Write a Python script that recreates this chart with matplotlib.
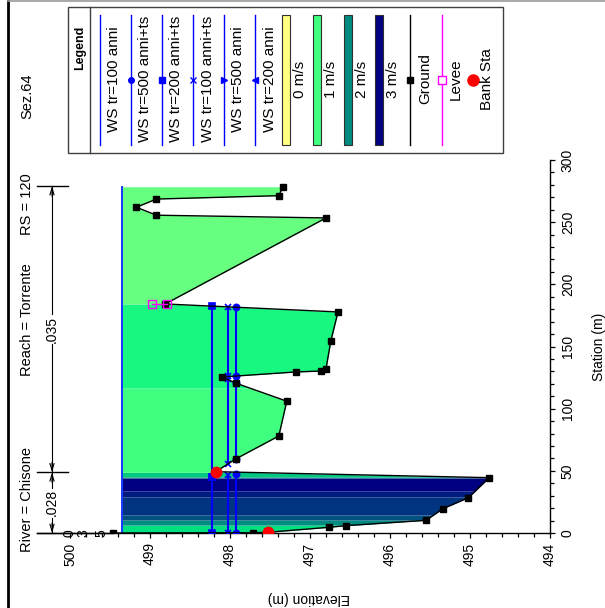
import numpy as np
import matplotlib
matplotlib.use('Agg')
import matplotlib.pyplot as plt
from matplotlib.patches import Rectangle

plt.rcParams['font.family'] = ['Liberation Sans', 'DejaVu Sans']

# ground profile: station (m) / elevation (m)
ground_sta = [0.0, 0.2, 0.6, 4.6, 5.9, 10.2, 19.5, 28.4, 44.5, 49.3, 59.5, 78.0, 106.0,
              120.6, 125.5, 129.5, 130.3, 132.0, 154.4, 177.8, 184.2, 253.4, 255.6,
              262.0, 268.6, 271.3, 278.5]
ground_elev = [499.46, 497.71, 497.52, 496.76, 496.55, 495.55, 495.34, 495.02, 494.76,
               498.18, 497.93, 497.39, 497.29, 497.93, 498.10, 497.18, 496.86, 496.80,
               496.74, 496.65, 498.81, 496.80, 498.92, 499.17, 498.92, 497.39, 497.34]

bank_sta = [0.6, 49.3]
bank_elev = [497.52, 498.18]

levee_sta = 184.2
levee_elev = [498.97, 498.79]

# water surface profiles
ws_names = ['WS tr=100 anni', 'WS tr=500 anni+ts', 'WS tr=200 anni+ts',
            'WS tr=100 anni+ts', 'WS tr=500 anni', 'WS tr=200 anni']
ws_elev = [499.35, 497.93, 498.22, 498.02, 499.35, 499.35]
ws_segments = [
    [(0.0, 278.5)],
    [(0.0, 47.5), (59.5, 120.6), (126.3, 181.8)],
    [(0.0, 44.8), (44.8, 182.5)],
    [(0.0, 46.6), (55.3, 123.6), (125.9, 181.8)],
    [(0.0, 278.5)],
    [(0.0, 278.5)],
]
ws_markers = ['', 'o', 's', 'x', '>', '<']
ws_show_markers = [False, True, True, True, False, False]

# velocity distribution bands (station limits)
band_edges = [0.0, 6.4, 10.5, 14.5, 29.0, 33.8, 44.2, 45.0, 48.8, 116.6, 184.2, 278.5]
band_colors = ['#00E080', '#008C80', '#005080', '#003480', '#001C80', '#000080',
               '#006080', '#00C880', '#40FF80', '#18F880', '#66FF80']
ws_top = 499.35

vel_labels = ['0 m/s', '1 m/s', '2 m/s', '3 m/s']
vel_colors = ['#FFFF80', '#40FF80', '#008C80', '#000080']

# manning n
n_sta = [0.0, 48.8, 279.0]
n_values = ['.028', '.035']

title_parts = ['River = Chisone', 'Reach = Torrente', 'RS = 120', 'Sez.64']

W, H = 605, 608
fig = plt.figure(figsize=(W / 100, H / 100), dpi=100)
ax = fig.add_axes([70 / W, 75 / H, 480 / W, 373 / H])

# velocity fill
for i, col in enumerate(band_colors):
    s0, s1 = band_edges[i], band_edges[i + 1]
    st = np.linspace(s0, s1, 80)
    st = np.unique(np.concatenate([st, [s for s in ground_sta if s0 < s < s1]]))
    gr = np.interp(st, ground_sta, ground_elev)
    ax.fill_betweenx(st, ws_top, np.minimum(gr, ws_top), color=col, lw=0, zorder=1)

# water surfaces
for name, el, segs, mk, show in zip(ws_names, ws_elev, ws_segments, ws_markers, ws_show_markers):
    for s0, s1 in segs:
        ax.plot([el, el], [s0, s1], color='#0000FF' if show else '#1a3cff',
                lw=1.5 if show else 1.2, zorder=3,
                marker=mk if show else None, ms=4.5, mew=1.2, mfc='#0000FF', mec='#0000FF')

# ground
ax.plot(ground_elev, ground_sta, color='black', lw=1.0, marker='s', ms=4.3, zorder=4)
# levee
ax.plot(levee_elev, [levee_sta, levee_sta], color='#FF00FF', lw=1.0, marker='s', ms=5.5,
        mfc='none', mec='#FF00FF', zorder=5)
# bank stations
ax.plot(bank_elev, bank_sta, ls='none', marker='o', ms=7.5, color='red', zorder=6)

ax.set_xlim(500, 494)
ax.set_ylim(0, 300)
ax.set_xticks(np.arange(494, 501, 1))
ax.set_xticks(np.arange(494, 500.01, 0.2), minor=True)
ax.set_yticks(np.arange(0, 301, 50))
ax.set_yticks(np.arange(0, 301, 10), minor=True)
ax.yaxis.tick_right()
ax.yaxis.set_label_position('right')
for sp in ['top', 'left']:
    ax.spines[sp].set_visible(False)
for sp in ['bottom', 'right']:
    ax.spines[sp].set_linewidth(1.0)
ax.tick_params(which='both', direction='out', width=0.9, labelsize=10)
ax.tick_params(which='major', length=3.8)
ax.tick_params(which='minor', length=3.2)
ax.tick_params(axis='x', labelrotation=90, pad=3)
ax.tick_params(axis='y', labelrotation=90, pad=4)
for lab in ax.get_yticklabels():
    lab.set_va('center')
ax.set_ylabel('Station (m)', fontsize=10, rotation=90, labelpad=12)
ax.patch.set_alpha(0)

# manning n brackets (left of plot)
n_x = 500.225
for s in n_sta:
    ax.plot([500.41, 500.03], [s, s], color='black', lw=1.0, clip_on=False)
ax.plot([500.41, ground_elev[0]], [0, 0], color='black', lw=1.0, clip_on=False)
for i, nv in enumerate(n_values):
    s0, s1 = n_sta[i], n_sta[i + 1]
    mid = 0.5 * (s0 + s1)
    half = 12
    ax.text(n_x, mid, nv, rotation=90, ha='center', va='center', fontsize=10, clip_on=False)
    ax.plot([n_x, n_x], [s0, mid - half], color='black', lw=0.8, clip_on=False)
    ax.plot([n_x, n_x], [mid + half, s1], color='black', lw=0.8, clip_on=False)
    for tgt, frm in [(s0, s0 + 8), (s1, s1 - 8)]:
        ax.annotate('', xy=(n_x, tgt), xytext=(n_x, frm), annotation_clip=False,
                    arrowprops=dict(arrowstyle='->,head_length=0.5,head_width=0.15',
                                    lw=0.8, color='black', shrinkA=0, shrinkB=0))
for lbl, el in zip(['0', '3', '5'], [500.0, 499.83, 499.61]):
    ax.text(el, 0, lbl, rotation=90, ha='center', va='center', fontsize=10, clip_on=False)

# overlay in pixel coordinates for title, legend and frame
ov = fig.add_axes([0, 0, 1, 1], zorder=10)
ov.set_xlim(0, W)
ov.set_ylim(H, 0)
ov.axis('off')

for txt, yc in zip(title_parts, [499, 320, 204, 96]):
    ov.text(27, yc, txt, rotation=90, ha='center', va='center', fontsize=10.5)

ov.text(309, 598, 'Elevation (m)', rotation=180, ha='center', va='center', fontsize=10)

# frame of the window
ov.plot([8, 8], [0, H], color='black', lw=2.0)
ov.plot([8, W], [0.8, 0.8], color='#999999', lw=1.2)

# legend box
ov.add_patch(Rectangle((68, 7), 435, 146, fill=False, ec='#404040', lw=1.0))
ov.plot([90, 90], [7, 153], color='#404040', lw=1.0)
ov.text(80, 48, 'Legend', rotation=90, ha='center', va='center', fontsize=9, fontweight='bold')

lx = [99.5, 130.5, 162, 193, 224, 255]
for x, name, mk in zip(lx, ws_names, ws_markers):
    ov.plot([x, x], [15, 145], color='#0000FF', lw=1.0)
    if mk:
        ov.plot(x, 80, marker=mk, ms=4, mew=1.0, color='#0000FF')
    ov.text(x + 14.5, 79, name, rotation=90, ha='center', va='center', fontsize=11)

for x, lab, col in zip([282, 313, 344, 375], vel_labels, vel_colors):
    ov.add_patch(Rectangle((x, 15), 8, 130, fc=col, ec='#303030', lw=0.8))
    ov.text(x + 18, 79, lab, rotation=90, ha='center', va='center', fontsize=11)

ov.plot([410, 410], [15, 145], color='black', lw=1.0)
ov.plot(410, 80, marker='s', ms=4.3, color='black')
ov.text(425, 79, 'Ground', rotation=90, ha='center', va='center', fontsize=11)

ov.plot([441.5, 441.5], [15, 145], color='#FF00FF', lw=1.0)
ov.plot(441.5, 80, marker='s', ms=6, mfc='white', mec='#FF00FF', mew=1.0)
ov.text(456, 79, 'Levee', rotation=90, ha='center', va='center', fontsize=11)

ov.plot(473, 80, marker='o', ms=8, color='red')
ov.text(487, 79, 'Bank Sta', rotation=90, ha='center', va='center', fontsize=11)

fig.savefig('out.png', dpi=100)
